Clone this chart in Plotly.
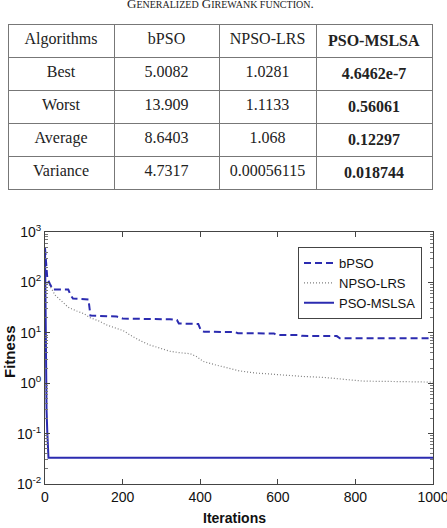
import plotly.graph_objects as go

W, H = 447, 528

# ---------------- table data ----------------
table_header = ["Algorithms", "bPSO", "NPSO-LRS", "PSO-MSLSA"]
row_labels = ["Best", "Worst", "Average", "Variance"]
bpso_stats = ["5.0082", "13.909", "8.6403", "4.7317"]
npso_stats = ["1.0281", "1.1133", "1.068", "0.00056115"]
mslsa_stats = ["4.6462e-7", "0.56061", "0.12297", "0.018744"]

# ---------------- convergence curves ----------------
bpso_iter = [0, 3, 6, 12, 20, 60, 66, 72, 112, 115, 117, 185, 200, 322, 340, 345, 395,
             402, 410, 490, 497, 590, 597, 655, 662, 752, 760, 1000]
bpso_fit = [480, 200, 120, 95, 72, 72, 56, 48, 46, 30, 22, 21, 19.2, 18.5, 18, 15.3, 15,
            11, 10.5, 10.3, 9.8, 9.7, 9.1, 9.0, 8.7, 8.6, 7.8, 7.8]

npso_iter = [0, 5, 13, 26, 39, 60, 82, 100, 116, 140, 159, 180, 202, 219, 245, 271, 300,
             322, 350, 374, 390, 408, 440, 469, 502, 540, 606, 665, 720, 760, 790, 820,
             900, 1000]
npso_fit = [110, 100, 85, 56, 45, 32, 27, 24, 20, 17, 14.3, 12.8, 11, 9.1, 7, 5.7, 4.8,
            4.3, 4.0, 3.85, 3.4, 2.7, 2.3, 2.0, 1.75, 1.6, 1.46, 1.36, 1.3, 1.2, 1.13, 1.1,
            1.08, 1.05]

mslsa_iter = [0, 1, 2, 4, 6, 8, 9, 1000]
mslsa_fit = [480, 30, 1.2, 0.3, 0.1, 0.04, 0.033, 0.033]

x_ticks = [0, 200, 400, 600, 800, 1000]
y_exps = [-2, -1, 0, 1, 2, 3]

# ---------------- layout helpers (pixels -> paper) ----------------
def fx(p):
    return p / W

def fy(p):
    return (H - p) / H

PL, PR, PT, PB = 45, 433, 232, 484
BLUE = "#2b2bb0"

fig = go.Figure()

fig.add_trace(go.Table(
    domain=dict(x=[fx(8), fx(432)], y=[fy(196), fy(24)]),
    columnwidth=[106, 105, 97, 116],
    header=dict(
        values=table_header[:3] + ["<b>" + table_header[3] + "</b>"],
        height=33,
        align="center",
        fill_color="white",
        line=dict(color="#777777", width=1),
        font=dict(family="Liberation Serif", size=16, color="#222222"),
    ),
    cells=dict(
        values=[row_labels, bpso_stats, npso_stats, ["<b>" + v + "</b>" for v in mslsa_stats]],
        height=33,
        align="center",
        fill_color="white",
        line=dict(color="#777777", width=1),
        font=dict(family="Liberation Serif", size=16, color="#222222"),
    ),
))

fig.add_trace(go.Scatter(
    x=bpso_iter, y=bpso_fit, mode="lines", name="bPSO",
    line=dict(color=BLUE, width=2, dash="7px,4px"),
))
fig.add_trace(go.Scatter(
    x=npso_iter, y=npso_fit, mode="lines", name="NPSO-LRS",
    line=dict(color="#808080", width=1.2, dash="1px,2px"),
))
fig.add_trace(go.Scatter(
    x=mslsa_iter, y=mslsa_fit, mode="lines", name="PSO-MSLSA",
    line=dict(color=BLUE, width=2),
))

axis_color = "#444444"
fig.update_layout(
    width=W, height=H,
    margin=dict(l=0, r=0, t=0, b=0),
    paper_bgcolor="white", plot_bgcolor="white",
    font=dict(family="Liberation Sans", size=13, color="#111111"),
    xaxis=dict(
        domain=[fx(PL), fx(PR)], range=[0, 1000],
        tickvals=x_ticks, ticktext=[str(v) for v in x_ticks],
        ticks="inside", ticklen=5, tickcolor=axis_color,
        showline=True, linecolor=axis_color, linewidth=1, mirror="ticks",
        showgrid=False, zeroline=False, ticklabeloverflow="allow",
        automargin=False,
        tickfont=dict(family="Liberation Sans", size=14, color="#111111"),
    ),
    yaxis=dict(
        domain=[fy(PB), fy(PT)], type="log", range=[-2, 3],
        tickvals=[10.0 ** e for e in y_exps],
        ticktext=["10<sup>%d</sup>" % e for e in y_exps],
        ticks="inside", ticklen=5, tickcolor=axis_color,
        minor=dict(ticks="inside", ticklen=3, tickcolor="#777777",
                   tickvals=[m * 10.0 ** e for e in y_exps[:-1] for m in range(2, 10)]),
        showline=True, linecolor=axis_color, linewidth=1, mirror="ticks",
        showgrid=False, zeroline=False, automargin=False,
        tickfont=dict(family="Liberation Sans", size=14, color="#111111"),
    ),
    showlegend=True,
    legend=dict(
        x=fx(422), y=fy(247), xanchor="right", yanchor="top",
        xref="paper", yref="paper",
        bgcolor="white", bordercolor="#444444", borderwidth=1,
        font=dict(family="Liberation Sans", size=13, color="#111111"),
        tracegroupgap=0,
    ),
    annotations=[
        dict(text="<b>Fitness</b>", x=fx(9), y=fy(352), xref="paper", yref="paper",
             textangle=-90, showarrow=False, xanchor="center", yanchor="middle",
             font=dict(family="Liberation Sans", size=15, color="#111111")),
        dict(text="<b>Iterations</b>", x=fx(234), y=fy(518), xref="paper", yref="paper",
             showarrow=False, xanchor="center", yanchor="middle",
             font=dict(family="Liberation Sans", size=14, color="#111111")),
        dict(text="G<span style='font-size:10px'>ENERALIZED</span> G<span style='font-size:10px'>IREWANK FUNCTION</span>.",
             x=fx(220), y=fy(3), xref="paper", yref="paper",
             showarrow=False, xanchor="center", yanchor="middle",
             font=dict(family="Liberation Serif", size=13, color="#222222")),
    ],
)

fig.write_html("out.html")
